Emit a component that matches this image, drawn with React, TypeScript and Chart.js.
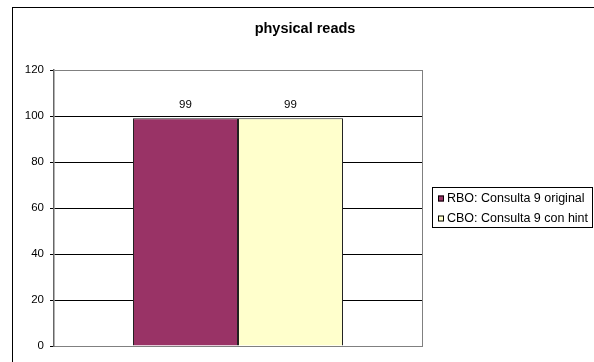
import React, { useEffect, useRef } from "react";
import { Chart, registerables } from "chart.js";

Chart.register(...registerables);

const chartTitle = "physical reads";
const categories = ["physical reads"];
const seriesLabels = ["RBO: Consulta 9 original", "CBO: Consulta 9 con hint"];
const rboValues = [99];
const cboValues = [99];
const seriesColors = ["#993366", "#FFFFCC"];
const yMin = 0;
const yMax = 120;
const yStep = 20;

const FONT = "'Liberation Sans', Arial, sans-serif";

const decorPlugin = {
  id: "decor",
  beforeDraw(chart: any) {
    const ctx = chart.ctx;
    ctx.save();
    ctx.fillStyle = "#ffffff";
    ctx.fillRect(0, 0, chart.width, chart.height);
    ctx.strokeStyle = "#000000";
    ctx.lineWidth = 1;
    ctx.strokeRect(12.5, 7.5, chart.width + 20, chart.height + 20);
    ctx.restore();
  },
  afterDatasetsDraw(chart: any) {
    const ctx = chart.ctx;
    const area = chart.chartArea;
    ctx.save();
    // plot area right border
    ctx.strokeStyle = "#808080";
    ctx.lineWidth = 1;
    ctx.beginPath();
    ctx.moveTo(Math.round(area.right) + 0.5, area.top);
    ctx.lineTo(Math.round(area.right) + 0.5, area.bottom);
    ctx.stroke();
    // data labels
    ctx.fillStyle = "#000000";
    ctx.font = `11.5px ${FONT}`;
    ctx.textAlign = "center";
    ctx.textBaseline = "middle";
    chart.data.datasets.forEach((ds: any, i: number) => {
      const meta = chart.getDatasetMeta(i);
      meta.data.forEach((el: any, j: number) => {
        ctx.fillText(String(ds.data[j]), el.x, el.y - 13);
      });
    });
    // title
    ctx.font = `bold 14.5px ${FONT}`;
    ctx.fillText(chartTitle, 305, 29);
    // legend
    const lx = 432.5, ly = 187.5, lw = 160, lh = 40;
    ctx.strokeStyle = "#000000";
    ctx.strokeRect(lx, ly, lw, lh);
    ctx.textAlign = "left";
    ctx.font = `12.5px ${FONT}`;
    chart.data.datasets.forEach((ds: any, i: number) => {
      const cy = 198.5 + i * 20;
      ctx.fillStyle = ds.backgroundColor;
      ctx.fillRect(438, cy - 3, 6, 6);
      ctx.strokeStyle = "#000000";
      ctx.strokeRect(438.5, cy - 2.5, 5, 5);
      ctx.fillStyle = "#000000";
      ctx.fillText(ds.label, 447, cy + 0.5);
    });
    ctx.restore();
  },
};

export default function App() {
  const ref = useRef<HTMLCanvasElement>(null);
  useEffect(() => {
    document.body.style.margin = "0";
    const chart = new Chart(ref.current as HTMLCanvasElement, {
      type: "bar",
      data: {
        labels: categories,
        datasets: [
          {
            label: seriesLabels[0],
            data: rboValues,
            backgroundColor: seriesColors[0],
            borderColor: "#222222",
            borderWidth: 1,
          },
          {
            label: seriesLabels[1],
            data: cboValues,
            backgroundColor: seriesColors[1],
            borderColor: "#222222",
            borderWidth: 1,
          },
        ],
      },
      options: {
        responsive: false,
        animation: false,
        layout: { padding: { left: 0, top: 70, right: 172, bottom: 16 } },
        datasets: { bar: { categoryPercentage: 0.5707, barPercentage: 1 } },
        plugins: {
          legend: { display: false },
          title: { display: false },
          tooltip: { enabled: false },
        },
        scales: {
          x: {
            ticks: { display: false },
            grid: { display: false, drawTicks: false },
            border: { display: true, color: "#808080", width: 1 },
            afterFit: (s: any) => {
              s.height = 0;
            },
          },
          y: {
            min: yMin,
            max: yMax,
            ticks: {
              stepSize: yStep,
              color: "#000000",
              font: { family: FONT, size: 11.5 },
              padding: 6,
            },
            grid: {
              color: (c: any) =>
                c.tick && c.tick.value === yMax ? "#808080" : c.tick && c.tick.value === yMin ? "#808080" : "#000000",
              tickColor: "#000000",
              tickLength: 4,
            },
            border: { display: true, color: "#666666", width: 1.5 },
            afterFit: (s: any) => {
              s.width = 54;
            },
          },
        },
      },
      plugins: [decorPlugin],
    });
    return () => chart.destroy();
  }, []);
  return (
    <div style={{ position: "absolute", left: 0, top: 0, width: 594, height: 362 }}>
      <canvas ref={ref} width={594} height={362} />
    </div>
  );
}
